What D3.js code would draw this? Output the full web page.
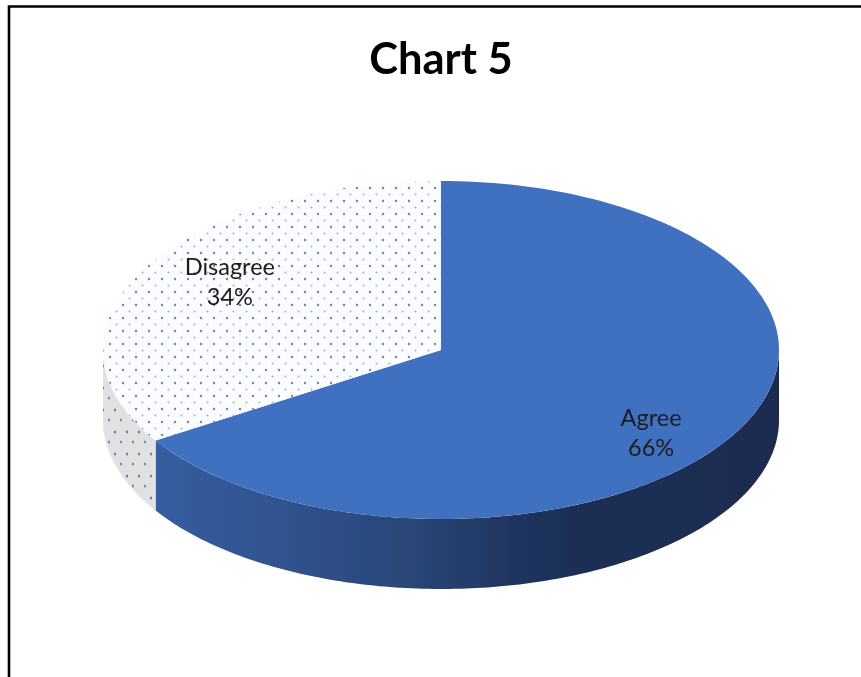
<!DOCTYPE html>
<html><head><meta charset="utf-8">
<script src="https://cdnjs.cloudflare.com/ajax/libs/d3/7.8.5/d3.min.js"></script>
<style>html,body{margin:0;padding:0;background:#fff;overflow:hidden}svg{display:block}text{font-family:Lato,"Open Sans",sans-serif;fill:#1c1c1c}</style>
</head><body><svg id="c" width="861" height="677"></svg>
<script>
const title = "Chart 5";
const categories = ["Agree", "Disagree"];
const values = [66, 34];
const percentLabels = ["66%", "34%"];

const W = 861, H = 677;
const svg = d3.select("#c");
const defs = svg.append("defs");

// projected disc geometry
const px = d3.scaleLinear().domain([-1, 1]).range([103, 779]);
const py = d3.scaleLinear().domain([-1, 1]).range([181, 519]);
const depth = 70;
const sx = a => px(Math.sin(a));
const sy = a => py(-Math.cos(a));

const pie = d3.pie().sort(null).value(d => d)(values);

const soft = defs.append("filter").attr("id", "soft");
soft.append("feGaussianBlur").attr("stdDeviation", 0.45);

// side gradient
const grad = defs.append("linearGradient").attr("id", "side").attr("gradientUnits", "userSpaceOnUse")
  .attr("x1", 155).attr("x2", 779).attr("y1", 0).attr("y2", 0);
[[0, "#355da0"], [0.2, "#30538f"], [0.4, "#2a4778"], [0.58, "#1f355f"], [0.68, "#1b2e53"], [1, "#1a2c50"]]
  .forEach(([o, c]) => grad.append("stop").attr("offset", o).attr("stop-color", c));

// top face: staggered dots, strong and faint rows alternating
const pTop = defs.append("pattern").attr("id", "dotTop").attr("patternUnits", "userSpaceOnUse")
  .attr("width", 13).attr("height", 13).attr("x", 3).attr("y", 3);
pTop.append("rect").attr("width", 13).attr("height", 13).attr("fill", "#fbfcfe");
pTop.append("circle").attr("cx", 3).attr("cy", 3).attr("r", 1.2).attr("fill", "#7582b0");
pTop.append("circle").attr("cx", 9.5).attr("cy", 9.5).attr("r", 0.95).attr("fill", "#a4aecb");

// side face: sparser, larger dots
const pSide = defs.append("pattern").attr("id", "dotSide").attr("patternUnits", "userSpaceOnUse")
  .attr("width", 12).attr("height", 22).attr("x", 100).attr("y", 362);
pSide.append("rect").attr("width", 12).attr("height", 22).attr("fill", "#e0e1e3");
pSide.append("ellipse").attr("cx", 3).attr("cy", 4).attr("rx", 0.9).attr("ry", 1.5).attr("fill", "#5a6486");
pSide.append("ellipse").attr("cx", 9).attr("cy", 14).attr("rx", 0.9).attr("ry", 1.5).attr("fill", "#6d7694");

const g = svg.append("g").attr("filter", "url(#soft)");

const FRONT_A = Math.PI / 2, FRONT_B = 3 * Math.PI / 2;
const sideFills = ["url(#side)", "url(#dotSide)"];
const topFills = ["#4170c0", "url(#dotTop)"];
const line = d3.line();
const sweep = (a0, a1) => d3.range(0, 161).map(k => a0 + (a1 - a0) * k / 160);

pie.forEach((s, i) => {
  const a0 = Math.max(s.startAngle, FRONT_A), a1 = Math.min(s.endAngle, FRONT_B);
  if (a1 <= a0) return;
  const arc = sweep(a0, a1);
  const pts = arc.map(a => [sx(a), sy(a)])
    .concat(arc.slice().reverse().map(a => [sx(a), sy(a) + depth]));
  g.append("path").attr("d", line(pts) + "Z").attr("fill", sideFills[i]);
});

pie.forEach((s, i) => {
  const pts = [[px(0), py(0)]].concat(sweep(s.startAngle, s.endAngle).map(a => [sx(a), sy(a)]));
  g.append("path").attr("d", line(pts) + "Z").attr("fill", topFills[i]);
});

// chart frame (top and left edges only; the crop cuts the others)
g.append("path").attr("d", `M9,${H}V6.5H${W}`).attr("fill", "none").attr("stroke", "#000").attr("stroke-width", 2.6);

// labels
const labelNudge = [[-15, 20.5], [14, -7]];
pie.forEach((s, i) => {
  const m = (s.startAngle + s.endAngle) / 2, r = 0.76;
  const x = px(r * Math.sin(m)) + labelNudge[i][0];
  const y = py(-r * Math.cos(m)) + labelNudge[i][1];
  const t = g.append("text").attr("text-anchor", "middle").attr("font-size", 23.5);
  t.append("tspan").attr("x", x).attr("y", y - 6).text(categories[i]);
  t.append("tspan").attr("x", x).attr("y", y + 24).text(percentLabels[i]);
});

g.append("text").attr("x", 441).attr("y", 74).attr("text-anchor", "middle")
  .attr("font-size", 43.5).attr("font-weight", 700).style("fill", "#000").text(title);
</script></body></html>
